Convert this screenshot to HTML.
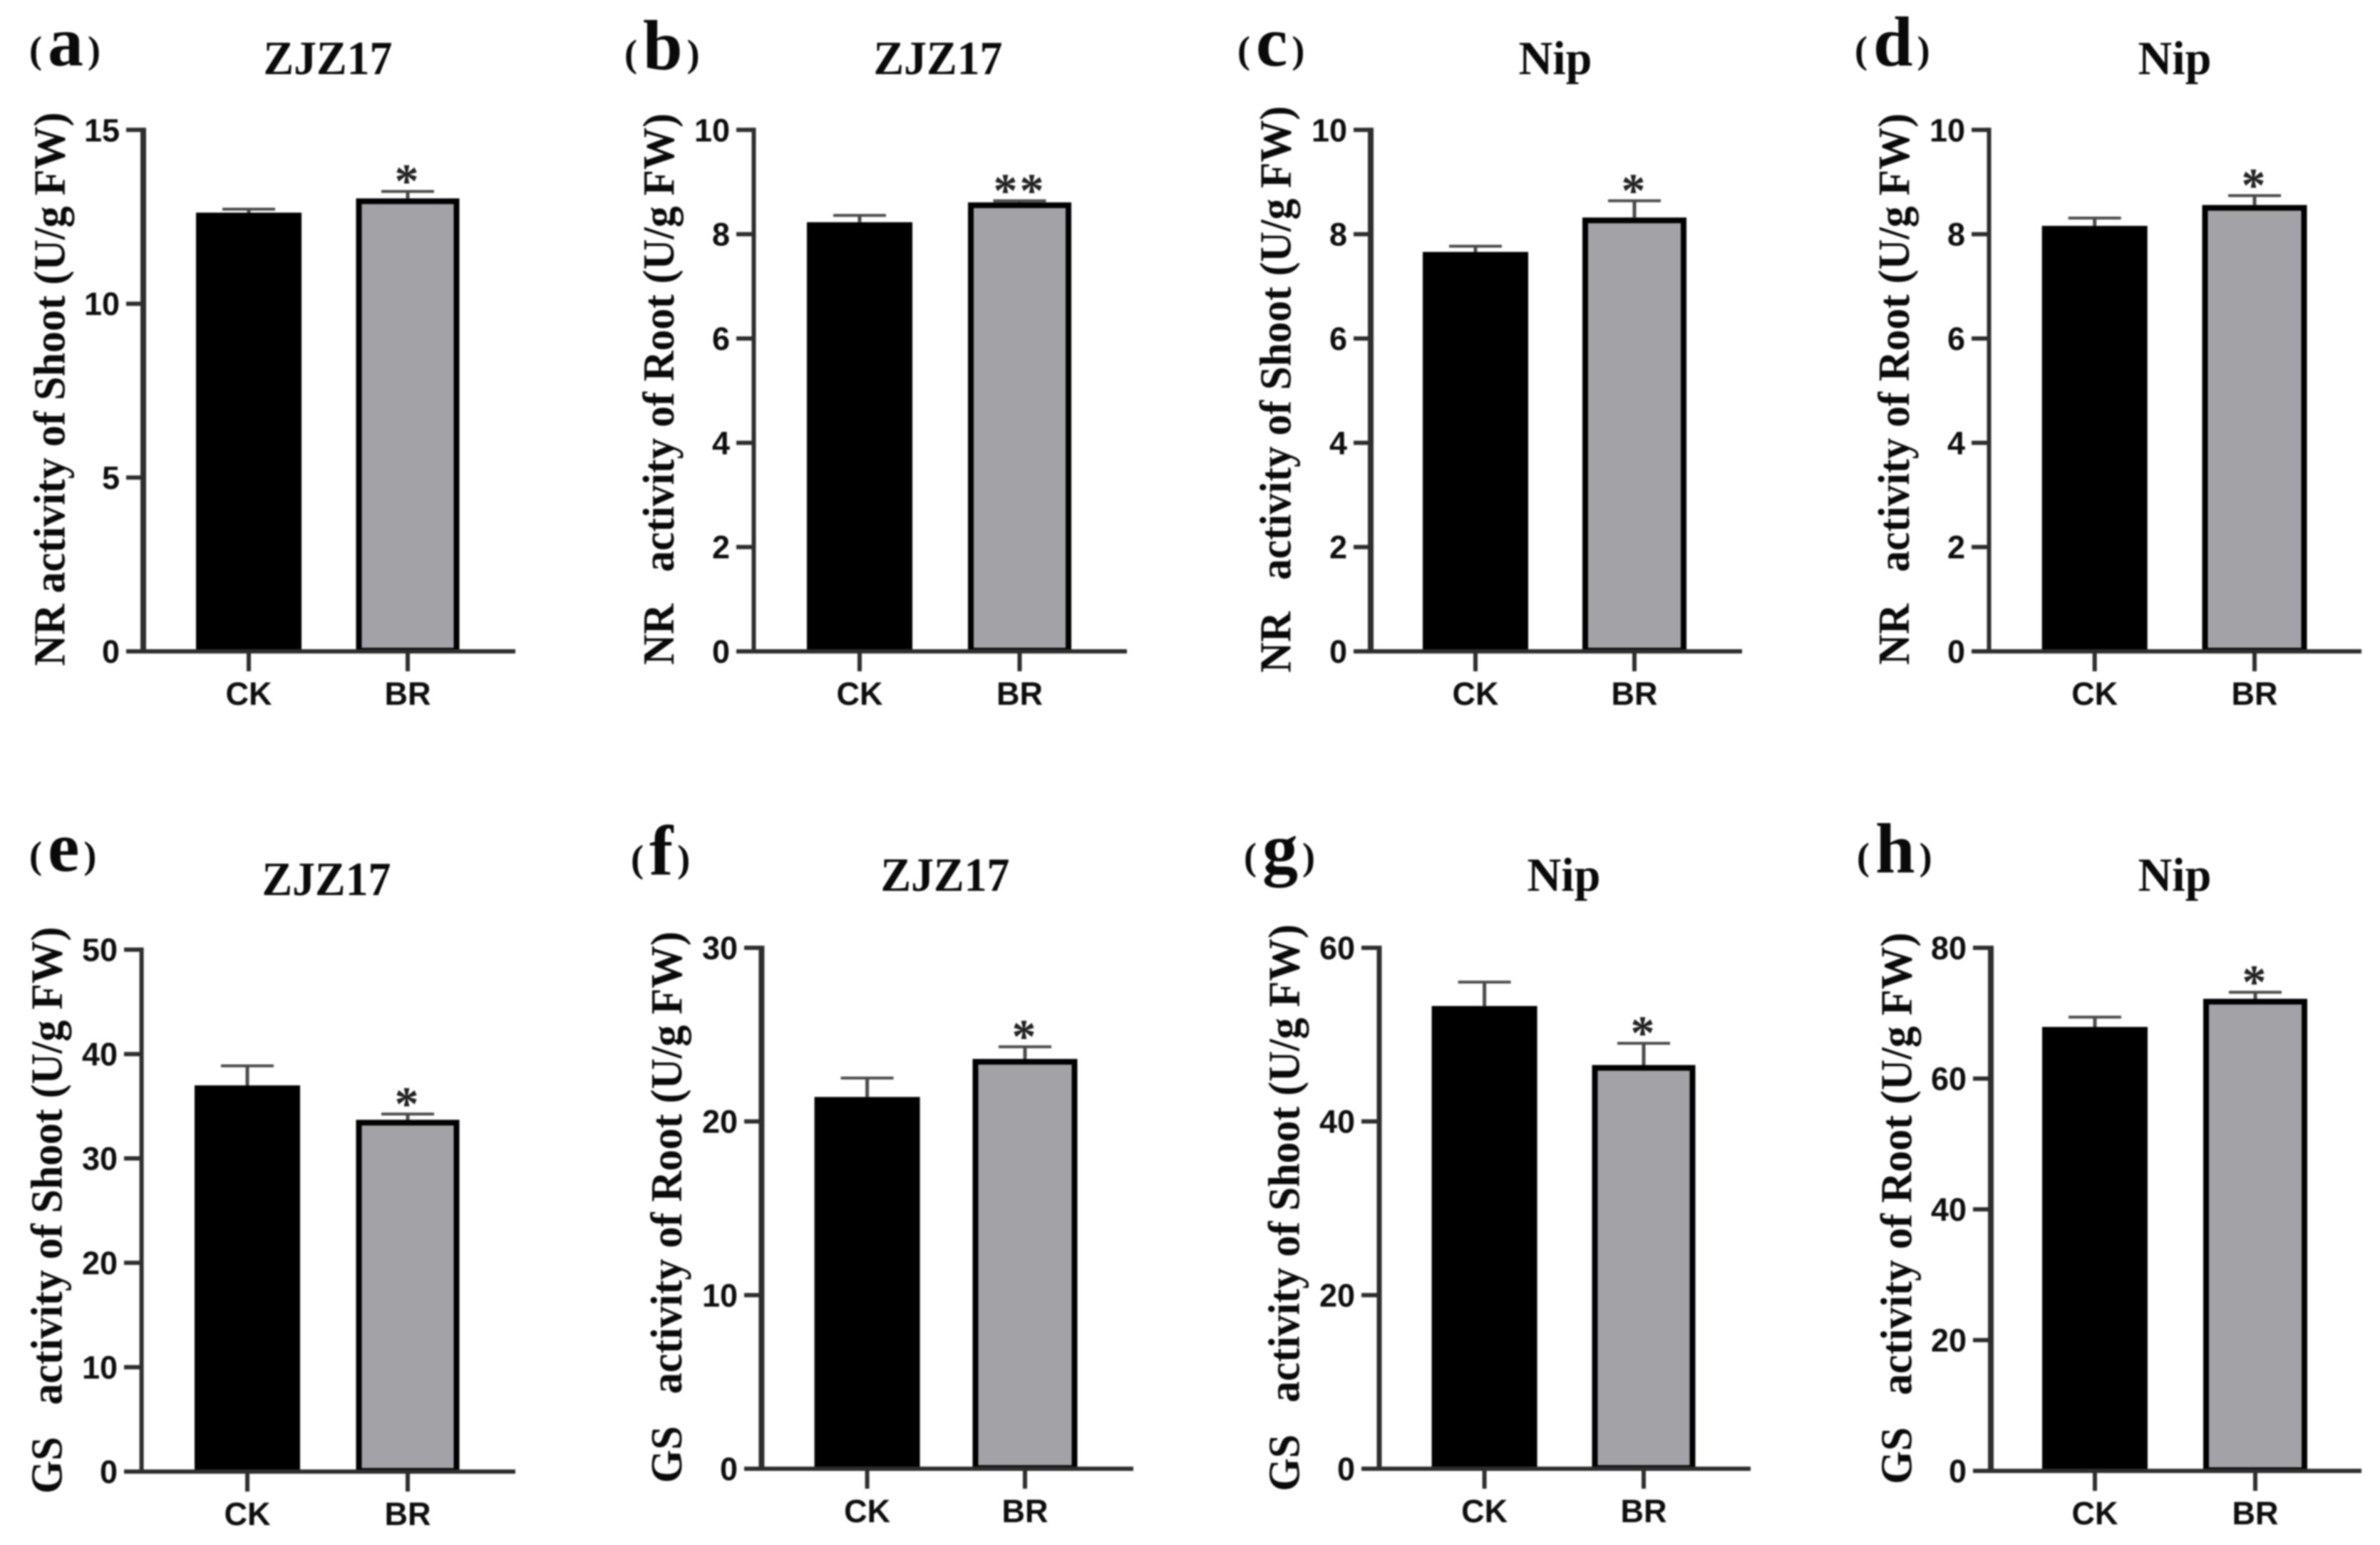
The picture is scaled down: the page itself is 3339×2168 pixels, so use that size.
<!DOCTYPE html>
<html lang="en">
<head>
<meta charset="utf-8">
<title>NR and GS activity of shoot and root</title>
<style>
  html, body { margin: 0; padding: 0; background: #fff; }
  svg { display: block; filter: blur(1px); }
  .tick-text { font-family: "Liberation Sans", sans-serif; font-weight: 700; font-size: 45px; fill: #0e0e0e; }
  .serif-bold { font-family: "Liberation Serif", serif; font-weight: 700; fill: #0a0a0a; white-space: pre; }
  .star { font-family: "Liberation Serif", serif; font-weight: 700; font-size: 68px; fill: #222; }
</style>
</head>
<body>
<svg id="figure" xmlns="http://www.w3.org/2000/svg" width="3339" height="2168" viewBox="0 0 3339 2168"></svg>
<script>
// ---- data ----
const categories = ['CK', 'BR'];
const panelLetters = ['a', 'b', 'c', 'd', 'e', 'f', 'g', 'h'];
const panelTitles = ['ZJZ17', 'ZJZ17', 'Nip', 'Nip', 'ZJZ17', 'ZJZ17', 'Nip', 'Nip'];
const yTitles = [
  'NR activity of Shoot (U/g FW)',
  'NR   activity of Root (U/g FW)',
  'NR   activity of Shoot (U/g FW)',
  'NR   activity of Root (U/g FW)',
  'GS   activity of Shoot (U/g FW)',
  'GS   activity of Root (U/g FW)',
  'GS   activity of Shoot (U/g FW)',
  'GS   activity of Root (U/g FW)'
];
const yTicks = [
  [0, 5, 10, 15],
  [0, 2, 4, 6, 8, 10],
  [0, 2, 4, 6, 8, 10],
  [0, 2, 4, 6, 8, 10],
  [0, 10, 20, 30, 40, 50],
  [0, 10, 20, 30],
  [0, 20, 40, 60],
  [0, 20, 40, 60, 80]
];
const ckValues = [12.62, 8.23, 7.66, 8.16, 37.0, 21.41, 53.3, 67.9];
const ckErrors = [0.10, 0.13, 0.11, 0.15, 1.87, 1.09, 2.75, 1.5];
const brValues = [13.03, 8.61, 8.32, 8.56, 33.7, 23.6, 46.5, 72.2];
const brErrors = [0.20, 0.03, 0.32, 0.18, 0.55, 0.7, 2.5, 1.0];
const significance = ['*', '**', '*', '*', '*', '*', '*', '*'];

// ---- layout of each panel frame ----
const frames = [
  { axisX: 201,    xStart: 177,  xEnd: 723,  top: 182.3, base: 914,  c0: 349,  step: 223,   ckW: 148, brW: 145, axisW: 8 },
  { axisX: 1057.5, xStart: 1033, xEnd: 1581, top: 182.3, base: 914,  c0: 1206, step: 224.5, ckW: 148, brW: 145, axisW: 6 },
  { axisX: 1923,   xStart: 1899, xEnd: 2444, top: 182.3, base: 914,  c0: 2070, step: 223,   ckW: 148, brW: 146, axisW: 8 },
  { axisX: 2790.5, xStart: 2766, xEnd: 3313, top: 182.3, base: 914,  c0: 2938.7, step: 224.3, ckW: 148, brW: 147, axisW: 6 },
  { axisX: 198.6,  xStart: 174,  xEnd: 723,  top: 1332.6, base: 2065, c0: 347,  step: 225,   ckW: 148, brW: 145, axisW: 6 },
  { axisX: 1068.4, xStart: 1044, xEnd: 1590, top: 1330,  base: 2061, c0: 1216.6, step: 221.4, ckW: 148, brW: 147, axisW: 8 },
  { axisX: 1935,   xStart: 1910, xEnd: 2456, top: 1330,  base: 2061, c0: 2082.6, step: 223.4, ckW: 148, brW: 145, axisW: 7 },
  { axisX: 2793,   xStart: 2768, xEnd: 3313, top: 1330,  base: 2064, c0: 2939, step: 225,   ckW: 148, brW: 146, axisW: 8 }
];
const letterSpots = [
  { x: 41, y: 92 }, { x: 876, y: 97 }, { x: 1736, y: 92 }, { x: 2602, y: 92 },
  { x: 41, y: 1222 }, { x: 885, y: 1227 }, { x: 1745, y: 1224 }, { x: 2605, y: 1224 }
];
const titleSpots = [
  { x: 460, y: 104 }, { x: 1316, y: 104 }, { x: 2182, y: 104 }, { x: 3051, y: 104 },
  { x: 458, y: 1256 }, { x: 1326, y: 1250 }, { x: 2194, y: 1250 }, { x: 3051, y: 1250 }
];
const yTitleSpots = [
  { x: 90.5, bottom: 934.5, top: 157.4 }, { x: 945, bottom: 933, top: 159 },
  { x: 1810.5, bottom: 944, top: 148.7 }, { x: 2678, bottom: 933, top: 159 },
  { x: 86.7, bottom: 2096, top: 1300.5 }, { x: 956, bottom: 2081, top: 1307 },
  { x: 1822.6, bottom: 2092.6, top: 1297 }, { x: 2681.6, bottom: 2082.6, top: 1308.5 }
];

const SVG_NS = 'http://www.w3.org/2000/svg';
const AXIS_COLOR = '#2e2e2e';
const root = document.getElementById('figure');

function make(tag, attrs, parent, text) {
  const el = document.createElementNS(SVG_NS, tag);
  for (const k in attrs) el.setAttribute(k, attrs[k]);
  if (text !== undefined) el.textContent = text;
  parent.appendChild(el);
  return el;
}

panelLetters.forEach(function (letter, p) {
  const f = frames[p];
  const ticks = yTicks[p];
  const yMax = ticks[ticks.length - 1];
  const yScale = function (v) { return f.base - (v / yMax) * (f.base - f.top); };
  const xScale = function (i) { return f.c0 + i * f.step; };
  const values = [ckValues[p], brValues[p]];
  const errors = [ckErrors[p], brErrors[p]];
  const widths = [f.ckW, f.brW];

  const g = make('g', {}, root);
  
  

  // panel letter
  const lab = make('text', { x: letterSpots[p].x, y: letterSpots[p].y, class: 'serif-bold' }, g);
  
  
  make('tspan', { 'font-size': 54, dy: -4 }, lab, '(');
  make('tspan', { 'font-size': 100, dy: 4, dx: 8 }, lab, letter);
  make('tspan', { 'font-size': 54, dy: -4, dx: 6 }, lab, ')');

  // title
  const title = make('text', {
    x: titleSpots[p].x, y: titleSpots[p].y, 'text-anchor': 'middle', class: 'serif-bold',
    'font-size': 67, textLength: panelTitles[p] === 'Nip' ? 103 : 181, lengthAdjust: 'spacingAndGlyphs'
  }, g, panelTitles[p]);
  
  

  // y axis title
  const ys = yTitleSpots[p];
  const yTitle = make('text', {
    x: ys.x, y: ys.bottom, class: 'serif-bold', 'font-size': 62,
    transform: 'rotate(-90 ' + ys.x + ' ' + ys.bottom + ')',
    textLength: ys.bottom - ys.top, lengthAdjust: 'spacingAndGlyphs'
  }, g, yTitles[p]);
  
  

  // bars
  categories.forEach(function (cat, i) {
    const cx = xScale(i);
    const w = widths[i];
    const yTop = yScale(values[i]);
    const inset = i === 0 ? 0 : 4;
    const bar = make('rect', {
      x: cx - w / 2 + inset, y: yTop + inset,
      width: w - 2 * inset, height: Math.max(0, f.base - yTop - inset - (i === 0 ? 0 : 1)),
      fill: i === 0 ? '#000' : '#a3a2a7',
      stroke: i === 0 ? 'none' : '#000', 'stroke-width': i === 0 ? 0 : 8
    }, g);
    
    

    const capY = yScale(values[i] + errors[i]);
    const stem = make('line', { x1: cx, x2: cx, y1: yTop, y2: capY, stroke: '#4a4a4a', 'stroke-width': 5 }, g);
    
    
    const cap = make('line', { x1: cx - 37, x2: cx + 37, y1: capY, y2: capY, stroke: '#4a4a4a', 'stroke-width': 4 }, g);
    
    

    // category tick + label
    const xt = make('line', { x1: cx, x2: cx, y1: f.base, y2: f.base + 28, stroke: AXIS_COLOR, 'stroke-width': 6 }, g);
    
    
    const xl = make('text', { x: cx, y: f.base + 75, 'text-anchor': 'middle', class: 'tick-text' }, g, cat);
    
    
  });

  // significance marker above BR
  const starY = yScale(brValues[p] + brErrors[p]) - 25 + 33;
  const star = make('text', {
    x: xScale(1), y: starY, 'text-anchor': 'middle', class: 'star', 'letter-spacing': 3
  }, g, significance[p]);
  
  

  // axes
  const yAxis = make('line', {
    x1: f.axisX, x2: f.axisX, y1: f.top - 3, y2: f.base, stroke: AXIS_COLOR, 'stroke-width': f.axisW
  }, g);
  
  
  const xAxis = make('line', {
    x1: f.xStart, x2: f.xEnd, y1: f.base, y2: f.base, stroke: AXIS_COLOR, 'stroke-width': 6
  }, g);
  
  

  ticks.forEach(function (t) {
    const y = yScale(t);
    const tick = make('line', { x1: f.xStart, x2: f.axisX, y1: y, y2: y, stroke: AXIS_COLOR, 'stroke-width': 6 }, g);
    
    
    const tl = make('text', { x: f.xStart - 9, y: y + 16, 'text-anchor': 'end', class: 'tick-text' }, g, String(t));
    
    
  });
});
</script>
</body>
</html>
